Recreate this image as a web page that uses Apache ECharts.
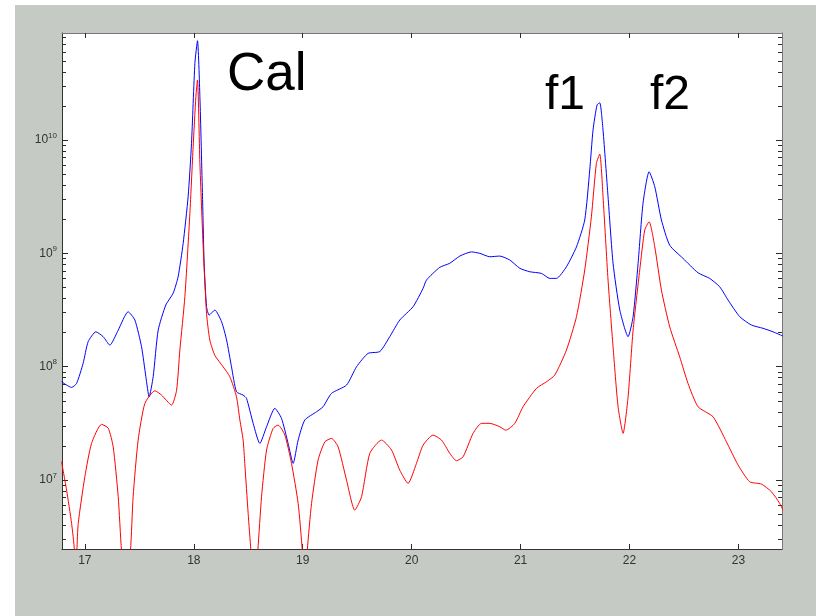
<!DOCTYPE html>
<html><head><meta charset="utf-8">
<script src="https://cdn.jsdelivr.net/npm/echarts@6.0.0/dist/echarts.min.js"></script>
<style>html,body{margin:0;padding:0;background:#fff;width:816px;height:616px;overflow:hidden}
#c{position:absolute;left:15px;top:5px;width:801px;height:611px}</style></head>
<body><div id="c"></div>
<script>
const xTicks = [17, 18, 19, 20, 21, 22, 23];
const yExponents = [7, 8, 9, 10];
const annotations = ['Cal', 'f1', 'f2'];

const blueX = [16.786,16.878,16.924,16.984,17.030,17.101,17.168,17.229,17.306,17.397,
17.459,17.520,17.560,17.590,17.627,17.673,17.743,17.810,17.856,17.902,
17.948,17.979,18.010,18.034,18.056,18.080,18.095,18.117,18.141,18.193,
18.255,18.301,18.346,18.392,18.453,18.484,18.545,18.606,18.668,18.744,
18.805,18.866,18.912,18.958,19.019,19.127,19.187,19.264,19.402,19.494,
19.600,19.708,19.799,19.891,20.013,20.105,20.136,20.258,20.350,20.442,
20.549,20.626,20.717,20.809,20.901,20.993,21.084,21.192,21.268,21.329,
21.421,21.513,21.589,21.635,21.665,21.702,21.727,21.757,21.803,21.849,
21.911,21.987,22.033,22.079,22.124,22.180,22.232,22.293,22.369,22.491,
22.629,22.736,22.828,22.905,23.012,23.119,23.226,23.318,23.410];
const blueY = [7.36e7,6.56e7,7.12e7,1.07e8,1.66e8,2.03e8,1.84e8,1.55e8,2.10e8,3.05e8,
2.58e8,1.50e8,8.15e7,5.42e7,8.15e7,2.10e8,3.50e8,4.44e8,6.21e8,1.22e9,
3.16e9,9.35e9,4.75e10,7.52e10,2.41e10,3.16e9,8.17e8,3.38e8,2.85e8,3.16e8,
2.49e8,1.72e8,9.98e7,6.00e7,5.61e7,5.25e7,3.16e7,2.10e7,2.95e7,4.29e7,
3.50e7,2.10e7,1.40e7,2.25e7,3.38e7,4.00e7,4.43e7,5.81e7,6.88e7,9.98e7,
1.31e8,1.36e8,1.84e8,2.58e8,3.38e8,4.91e8,5.81e8,7.52e8,8.17e8,9.46e8,
1.03e9,1.0e9,9.33e8,9.46e8,8.73e8,7.38e8,6.88e8,6.65e8,6.01e8,6.01e8,
7.62e8,1.14e9,1.97e9,5.43e9,1.22e10,2.04e10,2.13e10,1.22e10,3.16e9,8.17e8,
3.16e8,1.84e8,2.76e8,8.17e8,2.76e9,5.25e9,3.87e9,1.97e9,1.18e9,9.03e8,
6.74e8,6.01e8,5.07e8,3.87e8,2.76e8,2.33e8,2.18e8,2.03e8,1.86e8];

const redX = [16.786,16.832,16.878,16.904,16.916,16.927,16.939,17.000,17.061,17.153,
17.214,17.260,17.306,17.336,17.376,17.419,17.443,17.489,17.551,17.643,
17.704,17.796,17.842,17.872,17.918,17.964,17.994,18.019,18.034,18.056,
18.086,18.117,18.147,18.193,18.269,18.331,18.392,18.423,18.453,18.468,
18.499,18.524,18.556,18.588,18.622,18.668,18.728,18.774,18.836,18.897,
18.958,18.996,19.019,19.042,19.081,19.141,19.203,19.264,19.325,19.402,
19.478,19.540,19.616,19.723,19.815,19.891,19.967,20.044,20.105,20.197,
20.274,20.350,20.411,20.472,20.564,20.641,20.717,20.809,20.864,20.947,
21.023,21.146,21.238,21.314,21.421,21.513,21.589,21.650,21.696,21.727,
21.757,21.803,21.849,21.895,21.941,21.987,22.033,22.094,22.140,22.180,
22.232,22.293,22.369,22.461,22.537,22.629,22.767,22.890,22.996,23.104,
23.211,23.303,23.379,23.416];
const redY = [1.45e7,8.15e6,4.14e6,2.4e6,1.0e6,2.4e6,4.14e6,1.07e7,2.10e7,3.1e7,
2.87e7,1.96e7,7.11e6,2.4e6,1.0e6,2.4e6,7.11e6,2.25e7,4.74e7,6.13e7,
5.61e7,4.58e7,6.21e7,1.40e8,4.14e8,2.25e9,8.73e9,2.41e10,3.39e10,6.23e9,
1.14e9,2.95e8,1.72e8,1.26e8,9.98e7,8.15e7,5.42e7,3.38e7,2.25e7,1.40e7,
5.07e6,2.4e6,1.0e6,2.4e6,7.11e6,1.84e7,2.85e7,3.05e7,2.49e7,1.40e7,
6.21e6,2.4e6,1.0e6,2.4e6,6.21e6,1.50e7,2.17e7,2.33e7,1.96e7,9.98e6,
5.42e6,7.11e6,1.72e7,2.25e7,1.84e7,1.22e7,9.33e6,1.40e7,2.03e7,2.49e7,
2.25e7,1.72e7,1.48e7,1.60e7,2.58e7,3.16e7,3.16e7,2.95e7,2.75e7,3.16e7,
4.43e7,6.43e7,7.36e7,8.43e7,1.40e8,2.76e8,7.13e8,2.10e9,6.23e9,7.52e9,
3.16e9,5.81e8,1.50e8,4.43e7,2.58e7,5.42e7,2.10e8,7.13e8,1.61e9,1.90e9,
1.14e9,4.74e8,2.25e8,1.22e8,7.12e7,4.43e7,3.61e7,2.17e7,1.36e7,9.64e6,
9.20e6,7.87e6,6.21e6,5.24e6];

const X_MIN = 16.79, X_MAX = 23.40;
const Y_MIN = 2.46e6, Y_MAX = 8.8e10;
const EXP_MIN = Math.log10(Y_MIN), EXP_MAX = Math.log10(Y_MAX);

const minorExp = [];
for (let n = 6; n <= 10; n++) for (let k = 2; k <= 9; k++) {
  const v = n + Math.log10(k);
  if (v > EXP_MIN && v < EXP_MAX) minorExp.push(v);
}

const FONT = '"Liberation Sans", Arial, sans-serif';
const TICK = '#2a2a2a';
const chart = echarts.init(document.getElementById('c'), null, {renderer: 'canvas'});

function tickAxis(pos, vals, len, lineColor, showLine, labels) {
  return {
    type: 'value', position: pos, min: EXP_MIN, max: EXP_MAX,
    axisLine: {show: showLine, lineStyle: {color: lineColor, width: 1}},
    axisTick: {show: true, inside: true, length: len, customValues: vals, lineStyle: {color: TICK, width: 1}},
    axisLabel: labels ? {
      show: true, customValues: yExponents, margin: 5,
      formatter: v => '{b|10}{e|' + v + '}',
      rich: {b: {fontSize: 12, color: '#333', fontFamily: FONT},
             e: {fontSize: 8, color: '#333', fontFamily: FONT, padding: [0, 0, 9, 0]}}
    } : {show: false},
    splitLine: {show: false}
  };
}

chart.setOption({
  animation: false,
  backgroundColor: '#c6cac5',
  grid: {left: 47, top: 28, width: 720, height: 516, show: true, backgroundColor: '#ffffff', borderWidth: 0},
  xAxis: [
    {type: 'value', position: 'bottom', min: X_MIN, max: X_MAX,
     axisLine: {show: true, onZero: false, lineStyle: {color: '#333', width: 1}},
     axisTick: {show: true, inside: true, length: 5, customValues: xTicks, lineStyle: {color: TICK, width: 1}},
     axisLabel: {show: true, customValues: xTicks, margin: 6, fontSize: 12, color: '#333', fontFamily: FONT},
     splitLine: {show: false}},
    {type: 'value', position: 'top', min: X_MIN, max: X_MAX,
     axisLine: {show: true, onZero: false, lineStyle: {color: '#777', width: 1}},
     axisTick: {show: true, inside: true, length: 5, customValues: xTicks, lineStyle: {color: TICK, width: 1}},
     axisLabel: {show: false}, splitLine: {show: false}}
  ],
  yAxis: [
    {type: 'log', logBase: 10, min: Y_MIN, max: Y_MAX, show: false, splitLine: {show: false}},
    tickAxis('left', yExponents, 6, '#333', true, true),
    tickAxis('left', minorExp, 4, '#333', false, false),
    tickAxis('right', yExponents, 6, '#777', true, false),
    tickAxis('right', minorExp, 4, '#777', false, false)
  ],
  series: [
    {name: 'blue', type: 'line', xAxisIndex: 0, yAxisIndex: 0, showSymbol: false, clip: true, smooth: 0.2,
     lineStyle: {color: '#0000ff', width: 1}, data: blueX.map((x, i) => [x, blueY[i]])},
    {name: 'red', type: 'line', xAxisIndex: 0, yAxisIndex: 0, showSymbol: false, clip: true, smooth: 0.2,
     lineStyle: {color: '#ff0000', width: 1}, data: redX.map((x, i) => [x, redY[i]])}
  ],
  graphic: [
    {type: 'text', x: 212, y: 44, style: {text: annotations[0], font: '53px ' + FONT, fill: '#000', verticalAlign: 'top'}},
    {type: 'text', x: 530, y: 67, style: {text: annotations[1], font: '48px ' + FONT, fill: '#000', verticalAlign: 'top'}},
    {type: 'text', x: 635, y: 67, style: {text: annotations[2], font: '48px ' + FONT, fill: '#000', verticalAlign: 'top'}}
  ]
});
</script></body></html>
